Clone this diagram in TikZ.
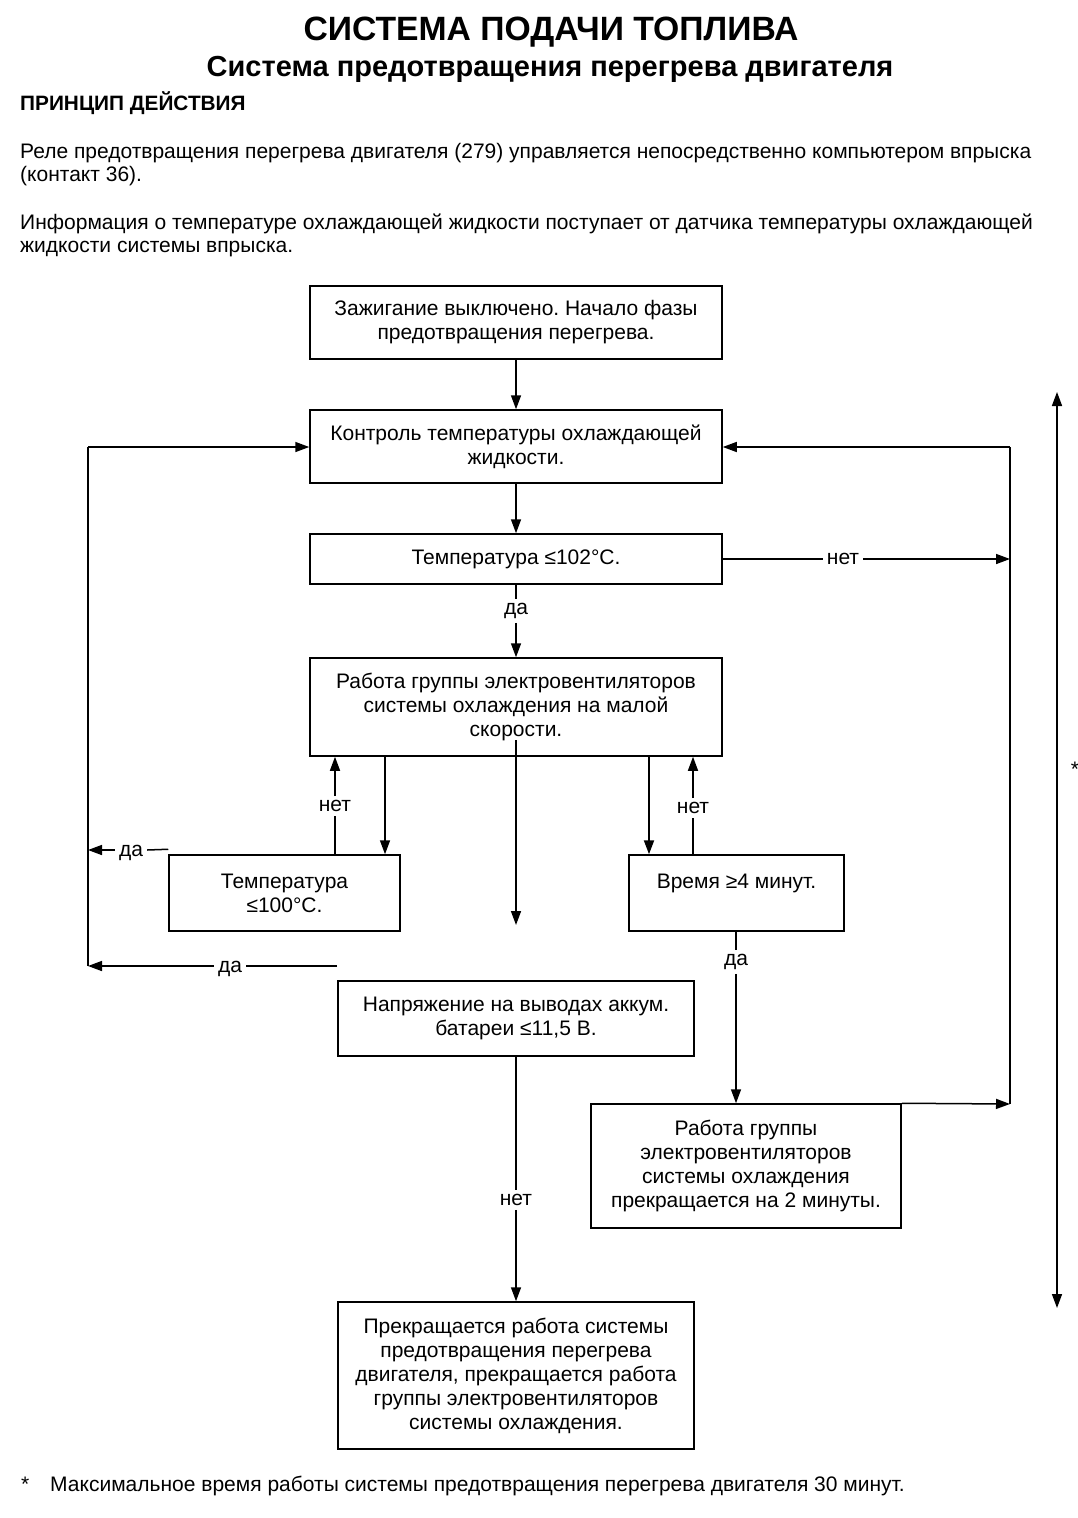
\documentclass[tikz,border=0pt]{standalone}
\usepackage{fontspec}
\setmainfont{Liberation Sans}
\usetikzlibrary{arrows.meta}
\frenchspacing
\newcommand{\bodyfs}{\fontsize{21}{23}\selectfont}
\newcommand{\boxfs}{\fontsize{21}{24}\selectfont}
\tikzset{
  flowbox/.style={draw, line width=1.5pt, align=center, inner sep=0pt, font=\boxfs, minimum width=#1},
  lbl/.style={inner sep=4pt, font=\boxfs},
  conn/.style={line width=1.5pt},
  arr/.style={line width=1.5pt, -{Triangle[length=14pt,width=10pt]}},
  dbl/.style={line width=1.5pt, {Triangle[length=14pt,width=10pt]}-{Triangle[length=14pt,width=10pt]}},
  txt/.style={anchor=west, inner sep=0pt, font=\bodyfs, align=left}
}
\begin{document}
\begin{tikzpicture}[x=1pt,y=-1pt]
\useasboundingbox (0,0) rectangle (1078,1518);
\fill[white] (0,0) rectangle (1078,1518);

% headings
\node[inner sep=0pt, font=\fontsize{33.7}{38}\selectfont\bfseries] (title) at (551,32) {СИСТЕМА ПОДАЧИ ТОПЛИВА};
\node[inner sep=0pt, font=\fontsize{29}{32}\selectfont\bfseries] (subtitle) at (550,69) {Система предотвращения перегрева двигателя};
\node[anchor=west, inner sep=0pt, font=\fontsize{20.8}{24}\selectfont\bfseries] (princ) at (20,103) {ПРИНЦИП ДЕЙСТВИЯ};
\node[txt] (p1a) at (20,154) {\strut Реле предотвращения перегрева двигателя (279) управляется непосредственно компьютером впрыска};
\node[txt] (p1b) at (20,177) {\strut (контакт 36).};
\node[txt] (p2a) at (20,225) {\strut Информация о температуре охлаждающей жидкости поступает от датчика температуры охлаждающей};
\node[txt] (p2b) at (20,248) {\strut жидкости системы впрыска.};

% boxes
\node[flowbox=412pt, minimum height=73pt] (B1) at (516,322.5) {Зажигание выключено. Начало фазы\\предотвращения перегрева.};
\node[flowbox=412pt, minimum height=73pt] (B2) at (516,446.5) {Контроль температуры охлаждающей\\жидкости.};
\node[flowbox=412pt, minimum height=50pt] (B3) at (516,559) {Температура ≤102°C.};
\node[flowbox=412pt, minimum height=98pt] (B4) at (516,707) {Работа группы электровентиляторов\\системы охлаждения на малой\\скорости.};
\node[flowbox=231pt, minimum height=76pt] (B5) at (284.5,893) {Температура\\≤100°C.};
\node[flowbox=215pt, minimum height=76pt] (B6) at (736.5,893) {Время ≥4 минут.\\\mbox{}};
\node[flowbox=356pt, minimum height=75pt] (B7) at (516,1018.5) {Напряжение на выводах аккум.\\батареи ≤11,5 В.};
\node[flowbox=310pt, minimum height=124pt] (B8) at (746,1166) {Работа группы\\электровентиляторов\\системы охлаждения\\прекращается на 2 минуты.};
\node[flowbox=356pt, minimum height=147pt] (B9) at (516,1375.5) {Прекращается работа системы\\предотвращения перегрева\\двигателя, прекращается работа\\группы электровентиляторов\\системы охлаждения.};

% labels
\node[lbl] (Lda1) at (516,611) {да};
\node[lbl] (Lnet1) at (843,559) {нет};
\node[lbl] (Lnet2) at (335,806) {нет};
\node[lbl] (Lnet3) at (693,808) {нет};
\node[lbl] (Lda2) at (131,853) {да};
\node[lbl] (Lda3) at (230,969) {да};
\node[lbl] (Lda4) at (736,962) {да};
\node[lbl] (Lnet4) at (516,1200) {нет};

% coordinates
\coordinate (rt) at (1010,447);
\coordinate (rm) at (1010,559);
\coordinate (rb) at (1010,1104);
\coordinate (lt) at (88,447);
\coordinate (lb) at (88,966);
\coordinate (ly) at (88,850);
\coordinate (v1) at (385,800);
\coordinate (v2) at (649,800);
\coordinate (c1) at (516,740);
\coordinate (c2) at (516,925);
\coordinate (d3s) at (337,966);
\coordinate (st) at (1057,392);
\coordinate (sb) at (1057,1308);

% connectors
\draw[arr] (B1) -- (B2);
\draw[arr] (B2) -- (B3);
\draw[conn] (B3) -- (Lda1);
\draw[arr] (Lda1) -- (B4);
\draw[conn] (B3.east) -- (Lnet1.west |- B3.east);
\draw[arr] (Lnet1.east |- rm) -- (rm);
\draw[conn] (rb) -- (rt);
\draw[arr] (rt) -- (rt -| B2.east);
\draw[arr] (B8.north east) -- (rb);
\draw[conn] (lb) -- (lt);
\draw[arr] (lt) -- (lt -| B2.west);
% B4 <-> B5
\draw[conn] (Lnet2 |- B5.north) -- (Lnet2);
\draw[arr] (Lnet2) -- (Lnet2 |- B4.south);
\draw[arr] (v1 |- B4.south) -- (v1 |- B5.north);
% B4 <-> B6
\draw[arr, line width=2pt] (v2 |- B4.south) -- (v2 |- B6.north);
\draw[conn] (Lnet3 |- B6.north) -- (Lnet3);
\draw[arr] (Lnet3) -- (Lnet3 |- B4.south);
% center
\draw[arr] (c1) -- (c2);
% yes from B5
\draw[conn] ([yshift=5pt]B5.north west) -- (Lda2.east |- ly);
\draw[arr] (Lda2.west |- ly) -- (ly);
% yes at 966
\draw[conn] (d3s) -- (Lda3.east |- d3s);
\draw[arr] (Lda3.west |- lb) -- (lb);
% B6 -> B8
\draw[conn] (B6.south -| Lda4) -- (Lda4);
\draw[arr] (Lda4) -- (Lda4 |- B8.north);
% B7 -> B9
\draw[conn] (B7) -- (Lnet4);
\draw[arr] (Lnet4) -- (B9);
% time span
\draw[dbl] (st) -- (sb);
\node[inner sep=0pt, font=\boxfs] (star) at (1075,769) {*};

% footnote
\node[txt] (fstar) at (21,1487) {\strut *};
\node[txt] (fnote) at (50,1487) {\strut Максимальное время работы системы предотвращения перегрева двигателя 30 минут.};
\end{tikzpicture}
\end{document}
